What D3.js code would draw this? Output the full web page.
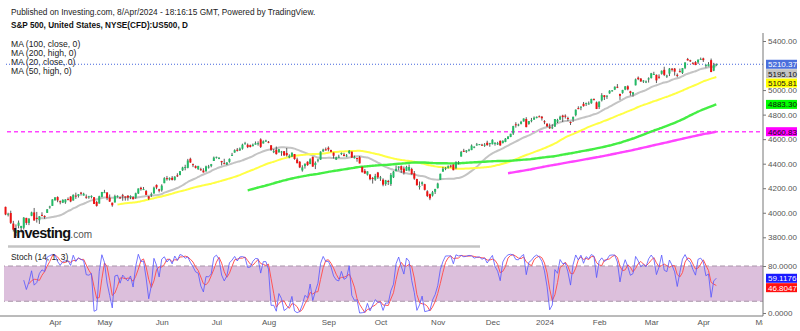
<!DOCTYPE html>
<html><head><meta charset="utf-8">
<script src="https://cdn.jsdelivr.net/npm/d3@7"></script>
<style>html,body{margin:0;padding:0;background:#fff;}svg{display:block;font-family:"Liberation Sans",Arial,sans-serif;}</style>
</head><body><svg id="c" width="800" height="331"></svg>
<script>
// Daily candles [open, high, low, close], 27 Feb 2023 (index 0) .. 8 Apr 2024 (index 279)
const candles = [
[3992,4018,3973,3982],[3977,3997,3968,3970],[3964,3971,3939,3951],[3938,3990,3928,3981],[3998,4048,3995,4046],
[4055,4079,4044,4048],[4048,4050,3980,3986],[3987,4000,3970,3992],[3998,4017,3909,3918],[3912,3934,3847,3862],
[3835,3905,3809,3856],[3894,3937,3873,3919],[3876,3894,3838,3892],[3878,3965,3864,3960],[3958,3959,3901,3917],
[3917,3956,3899,3952],[3975,4009,3972,4003],[4003,4039,3936,3937],[3959,4007,3920,3949],[3939,3973,3909,3971],
[3983,4004,3971,3978],[3974,3979,3951,3971],[3999,4030,3999,4028],[4047,4057,4033,4051],[4056,4110,4055,4109],
[4102,4128,4098,4125],[4128,4134,4086,4101],[4094,4100,4069,4090],[4082,4110,4079,4105],[4085,4110,4073,4109],
[4111,4125,4103,4109],[4132,4135,4086,4092],[4100,4150,4099,4146],[4140,4164,4113,4138],[4137,4152,4124,4151],
[4164,4170,4140,4155],[4140,4163,4140,4155],[4131,4149,4114,4130],[4132,4138,4114,4134],[4132,4142,4117,4137],
[4127,4127,4071,4072],[4088,4097,4050,4056],[4075,4139,4075,4135],[4130,4170,4127,4169],[4166,4187,4164,4168],
[4165,4169,4103,4120],[4122,4149,4088,4091],[4082,4083,4049,4061],[4084,4147,4084,4136],[4136,4142,4124,4138],
[4125,4131,4115,4119],[4143,4154,4098,4138],[4132,4133,4099,4131],[4139,4143,4099,4124],[4127,4142,4111,4136],
[4127,4136,4109,4110],[4123,4164,4114,4159],[4157,4198,4153,4198],[4204,4212,4180,4192],[4191,4210,4190,4193],
[4177,4186,4145,4146],[4133,4136,4104,4115],[4145,4165,4129,4151],[4157,4213,4156,4205],[4227,4231,4192,4206],
[4191,4195,4166,4180],[4183,4232,4172,4221],[4241,4290,4241,4282],[4282,4300,4262,4274],[4271,4288,4263,4284],
[4285,4299,4263,4268],[4268,4298,4262,4294],[4305,4322,4291,4299],[4308,4340,4305,4339],[4346,4375,4341,4369],
[4370,4391,4346,4373],[4366,4439,4362,4426],[4440,4449,4407,4410],[4396,4401,4372,4389],[4380,4386,4361,4366],
[4355,4382,4350,4382],[4355,4367,4342,4348],[4344,4363,4328,4329],[4338,4384,4335,4378],[4368,4390,4360,4377],
[4382,4398,4371,4396],[4422,4458,4422,4450],[4450,4457,4442,4456],[4442,4454,4437,4447],[4422,4423,4386,4412],
[4404,4440,4397,4399],[4394,4412,4389,4410],[4415,4443,4408,4439],[4467,4488,4463,4472],[4491,4517,4489,4510],
[4514,4528,4499,4505],[4508,4532,4504,4523],[4522,4563,4514,4555],[4565,4578,4557,4566],[4554,4565,4527,4535],
[4551,4556,4532,4536],[4543,4564,4541,4555],[4555,4581,4556,4567],[4559,4582,4547,4567],[4598,4607,4528,4537],
[4565,4590,4564,4582],[4585,4595,4577,4589],[4579,4585,4567,4577],[4550,4551,4505,4513],[4494,4519,4486,4502],
[4513,4540,4474,4478],[4492,4520,4491,4518],[4498,4504,4464,4499],[4502,4502,4462,4468],[4487,4528,4458,4469],
[4451,4476,4444,4464],[4459,4491,4454,4490],[4479,4479,4432,4438],[4434,4449,4403,4404],[4416,4421,4364,4370],
[4345,4387,4335,4370],[4380,4401,4360,4400],[4416,4419,4383,4388],[4397,4444,4396,4436],[4455,4458,4375,4376],
[4389,4418,4356,4406],[4427,4440,4411,4433],[4433,4501,4431,4498],[4500,4522,4497,4515],[4517,4532,4507,4508],
[4530,4541,4501,4516],[4511,4514,4493,4497],[4490,4491,4442,4465],[4434,4457,4430,4451],[4452,4473,4448,4457],
[4481,4491,4470,4487],[4474,4488,4461,4462],[4464,4479,4453,4467],[4487,4511,4478,4505],[4498,4498,4447,4450],
[4445,4466,4442,4454],[4446,4449,4416,4444],[4453,4462,4402,4402],[4374,4375,4329,4330],[4342,4357,4317,4320],
[4311,4338,4303,4337],[4312,4314,4265,4274],[4283,4292,4238,4275],[4270,4317,4260,4300],[4328,4333,4275,4288],
[4284,4300,4260,4288],[4270,4281,4216,4229],[4234,4268,4220,4264],[4259,4268,4226,4258],[4234,4324,4219,4309],
[4289,4341,4283,4336],[4339,4385,4339,4358],[4367,4379,4346,4377],[4380,4385,4325,4350],[4360,4377,4311,4328],
[4342,4383,4342,4374],[4346,4394,4337,4373],[4357,4367,4310,4315],[4322,4340,4268,4278],[4275,4277,4223,4224],
[4211,4255,4189,4217],[4235,4255,4220,4248],[4233,4236,4182,4187],[4175,4184,4128,4137],[4152,4156,4103,4117],
[4140,4178,4132,4167],[4171,4195,4153,4194],[4201,4245,4197,4238],[4269,4319,4268,4318],[4335,4374,4335,4358],
[4364,4372,4347,4366],[4367,4386,4360,4378],[4384,4391,4368,4383],[4392,4394,4346,4347],[4365,4418,4354,4415],
[4406,4421,4394,4412],[4458,4504,4458,4496],[4505,4521,4495,4503],[4497,4511,4488,4508],[4510,4521,4500,4514],
[4511,4557,4510,4547],[4538,4542,4526,4538],[4553,4569,4546,4557],[4555,4560,4553,4559],[4555,4562,4546,4550],
[4546,4568,4537,4555],[4571,4587,4547,4551],[4561,4570,4538,4568],[4559,4599,4557,4595],[4564,4575,4547,4570],
[4557,4578,4552,4567],[4586,4590,4546,4549],[4568,4591,4565,4586],[4577,4609,4575,4604],[4601,4623,4600,4622],
[4618,4644,4616,4644],[4646,4709,4634,4707],[4721,4738,4694,4720],[4714,4726,4705,4719],[4725,4749,4720,4741],
[4744,4769,4743,4768],[4764,4779,4697,4698],[4724,4748,4717,4747],[4754,4773,4737,4755],[4759,4785,4758,4775],
[4773,4785,4769,4782],[4786,4793,4781,4783],[4783,4789,4752,4770],[4746,4755,4722,4743],[4726,4729,4700,4705],
[4698,4727,4683,4689],[4690,4721,4682,4697],[4703,4764,4699,4764],[4742,4766,4731,4757],[4760,4791,4755,4783],
[4792,4799,4740,4780],[4791,4802,4768,4784],[4772,4783,4747,4766],[4740,4744,4715,4739],[4761,4785,4741,4781],
[4796,4842,4786,4840],[4853,4868,4844,4850],[4856,4867,4836,4865],[4888,4903,4865,4869],[4886,4898,4870,4894],
[4888,4907,4881,4891],[4893,4929,4888,4928],[4926,4932,4917,4925],[4900,4907,4845,4846],[4862,4907,4846,4906],
[4916,4975,4907,4959],[4958,4958,4919,4943],[4950,4958,4928,4954],[4973,4999,4970,4995],[4995,5000,4987,4998],
[5004,5030,5000,5027],[5027,5049,5016,5022],[4968,4971,4920,4953],[4977,5002,4970,5001],[5004,5033,4999,5030],
[5031,5039,4998,5006],[4990,4994,4955,4976],[4964,4983,4947,4982],[5039,5094,5038,5087],[5101,5111,5081,5089],
[5094,5097,5068,5070],[5074,5081,5058,5078],[5068,5078,5057,5070],[5086,5104,5061,5096],[5098,5140,5094,5137],
[5130,5149,5127,5131],[5124,5127,5057,5079],[5109,5128,5092,5105],[5133,5160,5126,5157],[5165,5190,5114,5124],
[5111,5125,5099,5118],[5134,5180,5114,5175],[5174,5180,5151,5165],[5175,5180,5118,5150],[5124,5136,5104,5117],
[5154,5175,5145,5149],[5140,5180,5131,5179],[5181,5226,5171,5225],[5253,5262,5240,5242],[5243,5247,5229,5234],
[5219,5229,5216,5218],[5228,5236,5203,5204],[5226,5249,5213,5248],[5248,5265,5245,5254],[5258,5264,5229,5244],
[5204,5208,5184,5206],[5194,5228,5194,5211],[5244,5257,5146,5147],[5158,5222,5154,5204],[5201,5217,5197,5210.37]
];
const monthLabels = ["Apr","May","Jun","Jul","Aug","Sep","Oct","Nov","Dec","2024","Feb","Mar","Apr","Ma"];
const monthIndex  = [25,44,66,87,107,130,150,172,193,213,234,254,274,296];
const priceTicks = [3800,4000,4200,4400,4600,4800,5000,5400];   // 5200.00 sits under the value boxes
const stochTicks = [80,0];
const maLegend = ["MA (100, close, 0)","MA (200, high, 0)","MA (20, close, 0)","MA (50, high, 0)"];
const maPeriod = [20,50,100,200];
const maField  = [3,1,3,1];          // 3 = close, 1 = high
const maColor  = ["#c4c4c4","#ffff44","#44ee44","#ff44ff"];
const maBox    = ["#c4c4c4","#ffff00","#00ff00","#ff00ff"];
const maLast   = [5195.10,5105.81,4883.30,4660.83];
const lastPrice = 5210.37;
const stochLast = [59.1176,46.8047];

const svg = d3.select("#c");
const x = d3.scaleLinear().domain([25,274]).range([55,703.3]);
const y = d3.scaleLinear().domain([3800,5400]).range([237.3,41]);
const ys = d3.scaleLinear().domain([0,100]).range([313,254.25]);
const axisX = 763;
const FF = "Liberation Sans, Arial, sans-serif";

const defs = svg.append("defs");
defs.append("clipPath").attr("id","cp").append("rect").attr("x",4).attr("y",33).attr("width",axisX-4).attr("height",212);
defs.append("clipPath").attr("id","cs").append("rect").attr("x",4).attr("y",250).attr("width",axisX-4).attr("height",66);
defs.append("clipPath").attr("id","cx").append("rect").attr("x",0).attr("y",316).attr("width",axisX).attr("height",15);

// header texts
svg.append("text").attr("x",11).attr("y",14.5).attr("font-size",8.3).attr("fill","#222")
  .text("Published on Investing.com, 8/Apr/2024 - 18:16:15 GMT, Powered by TradingView.");
svg.append("text").attr("x",11).attr("y",28).attr("font-size",8.2).attr("font-weight","bold").attr("fill","#111")
  .text("S&P 500, United States, NYSE(CFD):US500, D");
maLegend.forEach((t,i)=>svg.append("text").attr("x",11).attr("y",47.3+i*8.8).attr("font-size",8.6).attr("fill","#222").text(t));

// price panel
const gp = svg.append("g").attr("clip-path","url(#cp)");
gp.append("line").attr("x1",0).attr("x2",axisX).attr("y1",y(lastPrice)).attr("y2",y(lastPrice))
  .attr("stroke","#4466dd").attr("stroke-dasharray","1,2");
gp.append("line").attr("x1",0).attr("x2",axisX).attr("y1",y(maLast[3])).attr("y2",y(maLast[3]))
  .attr("stroke","#ff44ff").attr("stroke-width",1.6).attr("stroke-dasharray","4,3");

// moving averages computed from the candles
const mas = maPeriod.map((p,k)=>candles.map((c,i)=> i>=p-1 ? d3.mean(candles.slice(i-p+1,i+1),d=>d[maField[k]]) : null));
const line = d3.line().defined(d=>d[1]!==null).x(d=>x(d[0])).y(d=>y(d[1])).curve(d3.curveMonotoneX);
mas.forEach((m,k)=>{
  gp.append("path").attr("d",line(m.map((v,i)=>[i,v]))).attr("fill","none")
    .attr("stroke",maColor[k]).attr("stroke-width",k>=2?2.4:2);
});

// candles
const cg = gp.append("g");
candles.forEach((c,i)=>{
  const cx = x(i), up = c[3]>=c[0];
  cg.append("line").attr("x1",cx).attr("x2",cx).attr("y1",y(c[1])).attr("y2",y(c[2])).attr("stroke","#333").attr("stroke-width",0.8);
  const top = y(Math.max(c[0],c[3])), h = Math.max(1, Math.abs(y(c[0])-y(c[3])));
  cg.append("rect").attr("x",cx-1).attr("y",top).attr("width",2).attr("height",h).attr("fill",up?"#22bb66":"#ee1111");
});

// logo
const logo = svg.append("text").attr("x",13).attr("y",238).attr("fill","#111");
logo.append("tspan").attr("font-size",14.5).attr("font-weight","bold").attr("letter-spacing",-0.7).text("Investing");
logo.append("tspan").attr("font-size",10).attr("fill","#555").text(".com");

// separator
svg.append("line").attr("x1",8).attr("x2",480).attr("y1",246.5).attr("y2",246.5).attr("stroke","#c4c4c4").attr("stroke-width",2.5);

// stochastic panel
const gs = svg.append("g").attr("clip-path","url(#cs)");
gs.append("rect").attr("x",0).attr("width",axisX).attr("y",ys(80)).attr("height",ys(20)-ys(80)).attr("fill","#dcbfdc");
[80,20].forEach(v=>gs.append("line").attr("x1",0).attr("x2",axisX).attr("y1",ys(v)).attr("y2",ys(v))
  .attr("stroke","#a894a8").attr("stroke-dasharray","5,3"));
const K = candles.map((c,i)=>{
  if(i<13) return null;
  const w = candles.slice(i-13,i+1);
  const hh = d3.max(w,d=>d[1]), ll = d3.min(w,d=>d[2]);
  return 100*(c[3]-ll)/(hh-ll);
});
const D = K.map((v,i)=> (i>=15 && K[i-2]!==null) ? (K[i]+K[i-1]+K[i-2])/3 : null);
const sline = d3.line().defined(d=>d[1]!==null).x(d=>x(d[0])).y(d=>ys(d[1]));
gs.append("path").attr("d",sline(D.map((v,i)=>[i,v]))).attr("fill","none").attr("stroke","#ff5555").attr("stroke-width",1);
gs.append("path").attr("d",sline(K.map((v,i)=>[i,v]))).attr("fill","none").attr("stroke","#5555ff").attr("stroke-width",1).attr("stroke-opacity",0.8);
svg.append("text").attr("x",11).attr("y",259.5).attr("font-size",8.4).attr("fill","#222").text("Stoch (14, 1, 3)");

// axes
svg.append("line").attr("x1",axisX).attr("x2",axisX).attr("y1",33).attr("y2",316).attr("stroke","#777");
svg.append("line").attr("x1",0).attr("x2",axisX).attr("y1",316).attr("y2",316).attr("stroke","#777");
const ay = svg.append("g").attr("transform",`translate(${axisX},0)`)
  .call(d3.axisRight(y).tickValues(priceTicks).tickFormat(d3.format(".2f")).tickSize(3).tickPadding(2));
ay.select(".domain").remove();
const as = svg.append("g").attr("transform",`translate(${axisX},0)`)
  .call(d3.axisRight(ys).tickValues(stochTicks).tickFormat(d3.format(".4f")).tickSize(3).tickPadding(2));
as.select(".domain").remove();
[ay,as].forEach(g=>{g.selectAll("text").attr("font-size",8).attr("fill","#555").attr("font-family",FF);
  g.selectAll("line").attr("stroke","#777");});
const ax = svg.append("g").attr("clip-path","url(#cx)").append("g").attr("transform","translate(0,316)")
  .call(d3.axisBottom(x).tickValues(monthIndex).tickFormat((d,i)=>monthLabels[i]).tickSize(0).tickPadding(3));
ax.select(".domain").remove();
ax.selectAll("text").attr("font-size",8).attr("fill","#555").attr("font-family",FF);

// value boxes
function boxes(items){
  let prev = -1e9;
  items.forEach(it=>{
    const cy = Math.max(it.y, prev+9.4); prev = cy;
    svg.append("rect").attr("x",axisX+3).attr("y",cy-4.5).attr("width",31).attr("height",9).attr("fill",it.bg);
    svg.append("text").attr("x",axisX+5).attr("y",cy+2.9).attr("font-size",8).attr("fill",it.fg).text(it.t);
  });
}
boxes([{y:y(lastPrice),bg:"#4a6fdc",fg:"#fff",t:d3.format(".2f")(lastPrice)}]
  .concat(maLast.map((v,k)=>({y:y(v),bg:maBox[k],fg:"#111",t:d3.format(".2f")(v)}))));
boxes([{y:ys(stochLast[0]),bg:"#1a1aff",fg:"#fff",t:d3.format(".4f")(stochLast[0])},
       {y:ys(stochLast[1]),bg:"#ff1010",fg:"#fff",t:d3.format(".4f")(stochLast[1])}]);
</script></body></html>
